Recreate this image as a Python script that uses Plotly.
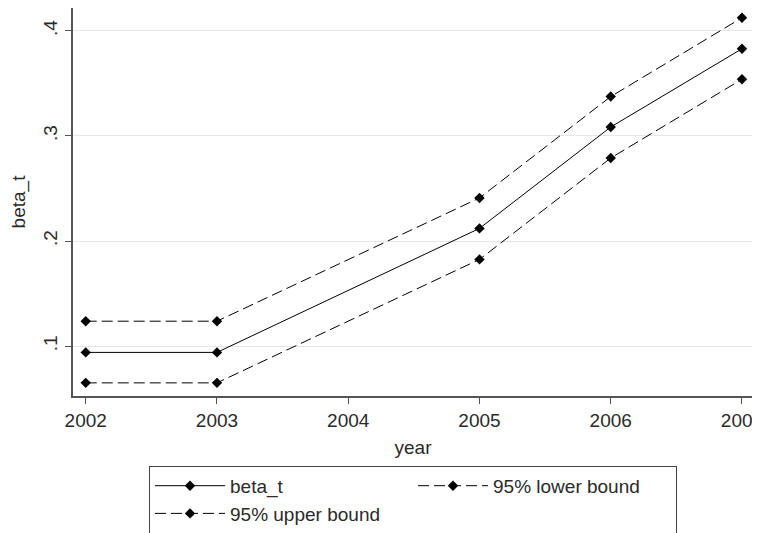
import plotly.graph_objects as go

years = [2002, 2003, 2005, 2006, 2007]
beta_t = [0.094, 0.094, 0.212, 0.3085, 0.383]
lower_bound = [0.065, 0.065, 0.1825, 0.279, 0.354]
upper_bound = [0.1237, 0.1237, 0.241, 0.3375, 0.4125]

x_ticks = [2002, 2003, 2004, 2005, 2006, 2007]
y_ticks = [0.1, 0.2, 0.3, 0.4]
y_tick_text = [".1", ".2", ".3", ".4"]

FONT = "Liberation Sans, Arial, sans-serif"
TXT = "#2a2a2a"

fig = go.Figure()
series = [
    ("beta_t", beta_t, "solid"),
    ("95% lower bound", lower_bound, "11px,5px"),
    ("95% upper bound", upper_bound, "11px,5px"),
]
for name, vals, dash in series:
    fig.add_trace(go.Scatter(
        x=years, y=vals, name=name, mode="lines+markers",
        line=dict(color="black", width=1, dash=dash),
        marker=dict(symbol="diamond", size=8, color="black"),
    ))

# the page body adds an 8px offset; the figure is sized to fit the window
fig.update_layout(
    width=752, height=525,
    margin=dict(l=65, r=7, t=0, b=137, autoexpand=False),
    paper_bgcolor="white", plot_bgcolor="white",
    font=dict(family=FONT, size=19, color=TXT),
    showlegend=True,
    legend=dict(
        orientation="h", x=0.5, xanchor="center", y=-0.18, yanchor="top",
        bordercolor="#444444", borderwidth=1, bgcolor="white",
        entrywidth=178, entrywidthmode="pixels", itemwidth=70,
        font=dict(family=FONT, size=19, color=TXT),
        traceorder="normal",
    ),
)
fig.update_xaxes(
    range=[2001.903, 2007.084], automargin=False,
    tickvals=x_ticks, ticktext=[str(v) for v in x_ticks],
    ticklabeloverflow="allow",
    showgrid=False, zeroline=False,
    showline=True, linecolor="#555555", linewidth=2,
    ticks="outside", ticklen=6, tickcolor="#555555", tickwidth=1,
    title=dict(text="year", standoff=11, font=dict(size=19)),
    tickfont=dict(size=19),
)
fig.update_yaxes(
    range=[0.0525, 0.4218], automargin=False,
    tickvals=y_ticks, ticktext=y_tick_text, tickangle=-90,
    ticklabelstandoff=0,
    showgrid=True, gridcolor="#e6e6e6", gridwidth=1, zeroline=False,
    showline=True, linecolor="#555555", linewidth=2,
    ticks="outside", ticklen=6, tickcolor="#555555", tickwidth=1,
    title=dict(text="beta_t", standoff=25, font=dict(size=19)),
    tickfont=dict(size=19),
)

fig.write_html("out.html")
